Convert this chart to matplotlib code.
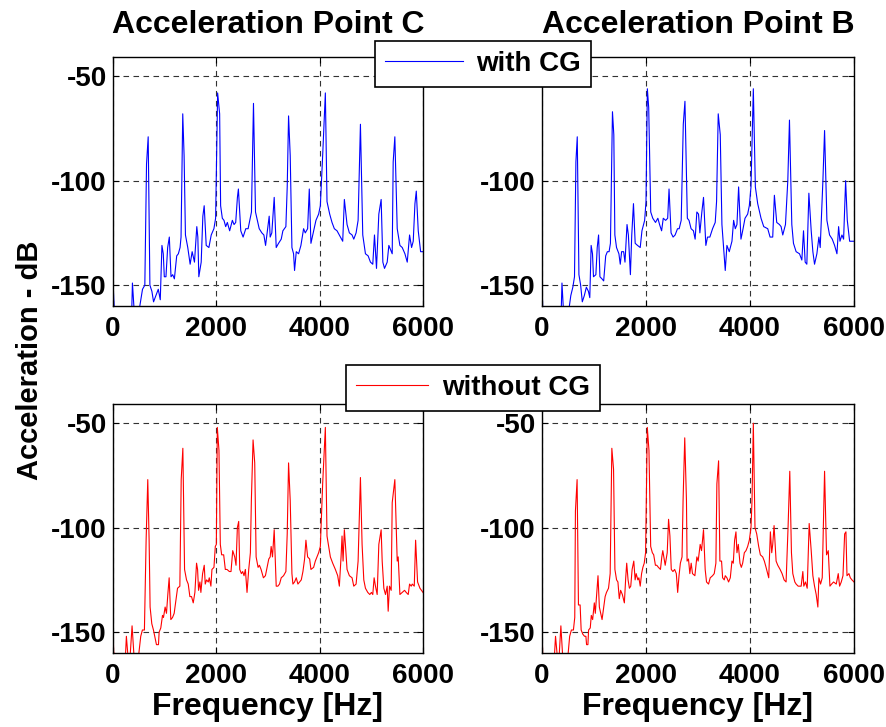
import matplotlib
matplotlib.use("Agg")
import matplotlib.pyplot as plt

plt.rcParams['font.family'] = ['Liberation Sans', 'DejaVu Sans']
plt.rcParams['font.weight'] = 'bold'
plt.rcParams['axes.unicode_minus'] = False

# spectra (Hz, dB)
freq_c_with = [0, 26, 363, 376, 409, 506, 539, 571, 616, 649,
               681, 714, 753, 785, 831, 876, 915, 947, 973, 993,
               1025, 1058, 1090, 1123, 1155, 1188, 1233, 1265, 1298, 1317,
               1350, 1376, 1402, 1447, 1493, 1532, 1577, 1622, 1642, 1661,
               1707, 1739, 1765, 1804, 1856, 1901, 1953, 1986, 2025, 2064,
               2083, 2116, 2148, 2181, 2213, 2258, 2310, 2343, 2375, 2408,
               2427, 2473, 2518, 2570, 2615, 2680, 2719, 2758, 2830, 2881,
               2920, 2953, 3023, 3042, 3074, 3120, 3159, 3204, 3256, 3288,
               3346, 3372, 3398, 3430, 3463, 3495, 3514, 3547, 3592, 3637,
               3689, 3721, 3767, 3799, 3831, 3883, 3928, 3980, 4013, 4058,
               4110, 4142, 4194, 4239, 4284, 4336, 4401, 4446, 4478, 4530,
               4575, 4627, 4660, 4705, 4744, 4789, 4834, 4886, 4938, 4983,
               5028, 5061, 5100, 5145, 5190, 5223, 5255, 5307, 5339, 5371,
               5404, 5423, 5455, 5501, 5553, 5598, 5650, 5695, 5740, 5779,
               5811, 5844, 5870, 5908, 5954, 6000]
db_c_with = [-149, -162, -162, -149, -162, -162, -157, -152, -150, -92,
             -79, -150, -153, -158, -155, -152, -157, -131, -135, -146,
             -146, -132, -127, -146, -145, -147, -136, -135, -132, -127,
             -68, -88, -126, -132, -140, -134, -139, -122, -127, -146,
             -139, -117, -112, -131, -132, -126, -123, -118, -58, -68,
             -112, -118, -119, -122, -120, -124, -119, -121, -120, -108,
             -104, -124, -127, -123, -123, -115, -63, -115, -123, -125,
             -126, -131, -117, -127, -125, -108, -132, -130, -128, -124,
             -122, -103, -69, -88, -132, -135, -143, -134, -135, -131,
             -123, -125, -123, -104, -130, -124, -119, -116, -112, -88,
             -58, -110, -116, -120, -123, -124, -127, -129, -109, -121,
             -125, -126, -128, -125, -119, -73, -126, -135, -136, -139,
             -140, -126, -142, -116, -109, -139, -142, -139, -131, -133,
             -135, -91, -79, -123, -131, -132, -135, -139, -126, -132,
             -129, -111, -105, -124, -134, -134]

freq_b_with = [0, 13, 371, 384, 410, 521, 554, 593, 625, 652,
               678, 710, 743, 775, 814, 853, 893, 919, 945, 971,
               990, 1036, 1062, 1088, 1114, 1153, 1186, 1225, 1257, 1290,
               1316, 1355, 1381, 1401, 1433, 1479, 1505, 1531, 1570, 1596,
               1635, 1661, 1700, 1726, 1759, 1792, 1837, 1889, 1922, 1974,
               2000, 2026, 2052, 2091, 2130, 2183, 2228, 2261, 2300, 2332,
               2378, 2417, 2443, 2482, 2521, 2560, 2606, 2638, 2677, 2717,
               2749, 2795, 2827, 2867, 2912, 2945, 2978, 3010, 3036, 3074,
               3106, 3151, 3183, 3228, 3280, 3331, 3357, 3389, 3428, 3460,
               3505, 3524, 3556, 3601, 3653, 3685, 3717, 3749, 3781, 3826,
               3859, 3904, 3955, 3987, 4019, 4064, 4103, 4148, 4212, 4264,
               4341, 4386, 4437, 4469, 4514, 4566, 4598, 4630, 4682, 4727,
               4759, 4804, 4836, 4887, 4952, 4997, 5029, 5061, 5093, 5132,
               5177, 5209, 5241, 5286, 5325, 5350, 5402, 5434, 5479, 5530,
               5582, 5627, 5672, 5704, 5730, 5768, 5800, 5839, 5871, 5916,
               6000]
db_b_with = [-147, -161, -161, -149, -161, -161, -155, -151, -146, -91,
             -79, -145, -150, -158, -155, -151, -153, -156, -131, -135,
             -146, -145, -132, -126, -146, -147, -148, -136, -134, -134,
             -130, -67, -78, -126, -132, -135, -140, -134, -134, -139,
             -121, -126, -145, -126, -111, -130, -131, -132, -124, -119,
             -110, -56, -65, -115, -118, -120, -118, -121, -124, -118,
             -119, -118, -104, -125, -127, -126, -123, -123, -119, -73,
             -62, -118, -119, -123, -124, -128, -115, -116, -125, -115,
             -108, -131, -127, -127, -123, -120, -110, -68, -78, -121,
             -137, -143, -131, -134, -129, -119, -123, -121, -103, -128,
             -124, -118, -116, -112, -103, -56, -103, -111, -118, -122,
             -123, -127, -127, -107, -120, -121, -122, -126, -121, -100,
             -71, -121, -130, -134, -135, -138, -124, -139, -140, -106,
             -124, -134, -140, -135, -127, -132, -100, -76, -119, -126,
             -128, -131, -135, -122, -129, -126, -128, -100, -119, -129,
             -129]

freq_c_without = [0, 13, 240, 259, 291, 330, 369, 408, 492, 537,
                  569, 608, 641, 673, 699, 718, 751, 783, 815, 841,
                  880, 893, 925, 958, 977, 1009, 1035, 1061, 1087, 1119,
                  1152, 1184, 1216, 1249, 1294, 1320, 1352, 1385, 1423, 1456,
                  1488, 1520, 1553, 1585, 1617, 1637, 1656, 1682, 1701, 1734,
                  1766, 1785, 1811, 1844, 1863, 1895, 1915, 1954, 1980, 2000,
                  2019, 2051, 2077, 2103, 2142, 2174, 2207, 2252, 2284, 2317,
                  2356, 2381, 2407, 2433, 2453, 2485, 2510, 2536, 2562, 2594,
                  2627, 2659, 2678, 2711, 2743, 2770, 2808, 2834, 2866, 2911,
                  2950, 3015, 3042, 3061, 3087, 3120, 3159, 3191, 3223, 3256,
                  3301, 3346, 3372, 3398, 3430, 3463, 3482, 3514, 3547, 3579,
                  3611, 3644, 3676, 3708, 3734, 3767, 3806, 3831, 3883, 3916,
                  3948, 3980, 4013, 4058, 4110, 4142, 4207, 4252, 4304, 4349,
                  4381, 4414, 4433, 4453, 4478, 4498, 4530, 4575, 4627, 4660,
                  4705, 4744, 4789, 4821, 4854, 4886, 4931, 4970, 5002, 5028,
                  5054, 5080, 5113, 5145, 5190, 5210, 5242, 5274, 5307, 5326,
                  5352, 5384, 5404, 5455, 5501, 5520, 5553, 5598, 5643, 5675,
                  5714, 5740, 5772, 5792, 5831, 5857, 5895, 5941, 6000]
db_c_without = [-146, -160, -162, -152, -162, -162, -147, -162, -162, -152,
                -149, -149, -106, -77, -106, -138, -146, -149, -153, -156,
                -156, -150, -148, -142, -143, -138, -141, -132, -124, -144,
                -143, -141, -135, -129, -128, -77, -62, -120, -125, -127,
                -133, -133, -136, -131, -117, -120, -130, -126, -131, -122,
                -118, -127, -125, -126, -124, -128, -120, -119, -109, -108,
                -52, -63, -108, -113, -113, -120, -120, -121, -121, -111,
                -114, -118, -100, -97, -120, -122, -121, -123, -120, -131,
                -120, -112, -87, -58, -69, -114, -119, -118, -120, -124,
                -123, -115, -114, -109, -114, -101, -128, -128, -127, -124,
                -123, -121, -103, -69, -87, -122, -127, -126, -124, -127,
                -126, -125, -121, -115, -106, -114, -115, -120, -119, -116,
                -114, -112, -109, -79, -52, -104, -114, -117, -120, -123,
                -128, -114, -104, -116, -101, -108, -120, -123, -124, -128,
                -127, -116, -76, -108, -125, -129, -131, -132, -131, -132,
                -124, -128, -132, -108, -101, -116, -129, -132, -128, -140,
                -128, -130, -88, -77, -116, -114, -132, -131, -130, -131,
                -132, -127, -128, -127, -128, -106, -126, -129, -131]

freq_b_without = [0, 13, 240, 260, 292, 331, 363, 396, 500, 532,
                  565, 604, 630, 643, 675, 701, 733, 753, 785, 818,
                  844, 857, 883, 896, 928, 948, 974, 1006, 1025, 1051,
                  1077, 1103, 1129, 1155, 1181, 1214, 1240, 1279, 1311, 1343,
                  1376, 1402, 1434, 1460, 1486, 1512, 1545, 1584, 1610, 1629,
                  1655, 1681, 1707, 1733, 1765, 1791, 1811, 1843, 1863, 1889,
                  1915, 1940, 1966, 1992, 2025, 2057, 2090, 2122, 2148, 2181,
                  2207, 2239, 2278, 2304, 2323, 2343, 2369, 2408, 2434, 2460,
                  2486, 2518, 2551, 2583, 2609, 2635, 2661, 2693, 2713, 2745,
                  2778, 2790, 2817, 2843, 2869, 2894, 2940, 2978, 3003, 3042,
                  3068, 3106, 3138, 3164, 3203, 3235, 3280, 3312, 3344, 3363,
                  3396, 3421, 3453, 3473, 3505, 3524, 3556, 3588, 3621, 3653,
                  3678, 3704, 3730, 3749, 3775, 3807, 3833, 3859, 3891, 3923,
                  3955, 3987, 4019, 4039, 4064, 4096, 4129, 4167, 4199, 4244,
                  4276, 4309, 4360, 4392, 4418, 4437, 4463, 4502, 4534, 4579,
                  4617, 4656, 4694, 4733, 4765, 4797, 4823, 4862, 4887, 4926,
                  4952, 4984, 5016, 5035, 5067, 5100, 5138, 5177, 5209, 5241,
                  5273, 5305, 5325, 5357, 5389, 5415, 5434, 5472, 5505, 5537,
                  5569, 5607, 5659, 5697, 5723, 5755, 5788, 5820, 5845, 5865,
                  5903, 5929, 5961, 6000]
db_b_without = [-146, -161, -161, -152, -161, -161, -147, -161, -161, -152,
                -149, -149, -143, -92, -77, -137, -137, -149, -151, -152,
                -152, -156, -156, -149, -148, -142, -144, -136, -141, -132,
                -123, -138, -141, -144, -139, -133, -131, -129, -122, -62,
                -72, -120, -125, -126, -134, -130, -132, -136, -124, -117,
                -125, -129, -128, -120, -116, -125, -122, -125, -124, -128,
                -122, -119, -117, -112, -52, -63, -109, -112, -113, -118,
                -118, -119, -120, -114, -111, -114, -118, -112, -96, -104,
                -120, -121, -120, -122, -131, -123, -117, -114, -87, -57,
                -87, -116, -115, -122, -117, -122, -123, -114, -116, -108,
                -111, -101, -120, -126, -127, -124, -123, -122, -117, -79,
                -68, -116, -116, -124, -125, -123, -124, -126, -124, -116,
                -117, -106, -102, -112, -108, -117, -119, -117, -112, -111,
                -109, -106, -100, -87, -50, -100, -103, -109, -113, -114,
                -116, -119, -124, -102, -112, -108, -99, -116, -118, -120,
                -122, -125, -126, -99, -73, -112, -122, -126, -127, -128,
                -128, -128, -121, -128, -126, -129, -98, -111, -123, -128,
                -132, -138, -124, -127, -124, -95, -73, -113, -111, -128,
                -127, -126, -127, -122, -128, -126, -123, -103, -102, -123,
                -122, -124, -125, -126]

titles = ['Acceleration Point C', 'Acceleration Point B']
x_ticks = [0, 2000, 4000, 6000]
y_ticks = [-150, -100, -50]

W, H = 887, 727
fig = plt.figure(figsize=(W / 100, H / 100), dpi=100)


def make_axes(l, t, r, b):
    return fig.add_axes([l / W, 1 - b / H, (r - l) / W, (b - t) / H])


ax_tl = make_axes(113, 57, 423, 306)
ax_tr = make_axes(542, 57, 854, 306)
ax_bl = make_axes(113, 404, 423, 653)
ax_br = make_axes(542, 404, 854, 653)

l1, = ax_tl.plot(freq_c_with, db_c_with, color='#0000ff', lw=0.8)
ax_tr.plot(freq_b_with, db_b_with, color='#0000ff', lw=0.8)
l2, = ax_bl.plot(freq_c_without, db_c_without, color='#ff0000', lw=0.8)
ax_br.plot(freq_b_without, db_b_without, color='#ff0000', lw=0.8)

for ax in [ax_tl, ax_tr, ax_bl, ax_br]:
    ax.set_xlim(0, 6000)
    ax.set_ylim(-160, -40.8)
    ax.set_xticks(x_ticks)
    ax.set_yticks(y_ticks)
    ax.grid(True, color='0.2', linestyle=(0, (5, 4)), linewidth=0.8)
    ax.tick_params(direction='in', length=4, top=True, right=True,
                   labelsize=20, width=0.8)
    ax.tick_params(axis='x', pad=7.5)
    ax.tick_params(axis='y', pad=4.5)
    for s in ax.spines.values():
        s.set_linewidth(1.0)

ax_tl.set_title(titles[0], fontsize=23, fontweight='bold', pad=17)
ax_tr.set_title(titles[1], fontsize=23, fontweight='bold', pad=17)
ax_bl.set_xlabel('Frequency [Hz]', fontsize=23, fontweight='bold', labelpad=2)
ax_br.set_xlabel('Frequency [Hz]', fontsize=23, fontweight='bold', labelpad=2)

fig.text(30 / W, 1 - 360 / H, 'Acceleration - dB', rotation=90,
         ha='center', va='center', fontsize=21, fontweight='bold')

leg1 = fig.legend([l1], ['with CG'], loc='center',
                  bbox_to_anchor=(483 / W, 1 - 64 / H), fontsize=20,
                  handlelength=2.8, handletextpad=0.5, borderpad=0.36,
                  fancybox=False, framealpha=1, edgecolor='k')
leg2 = fig.legend([l2], ['without CG'], loc='center',
                  bbox_to_anchor=(473 / W, 1 - 388 / H), fontsize=20,
                  handlelength=2.6, handletextpad=0.5, borderpad=0.36,
                  fancybox=False, framealpha=1, edgecolor='k')
for lg in [leg1, leg2]:
    lg.get_frame().set_linewidth(1.2)
    lg.set_zorder(10)

fig.savefig('out.png', dpi=100)
